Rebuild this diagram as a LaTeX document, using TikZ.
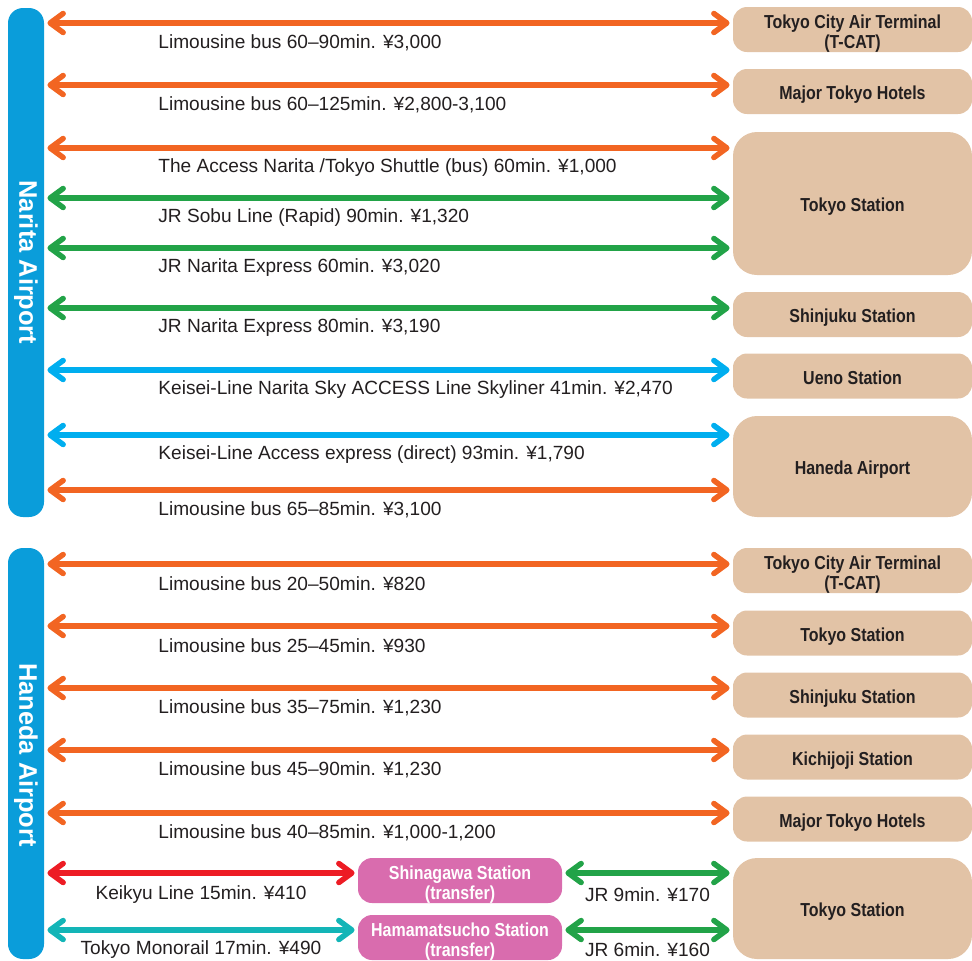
\documentclass[tikz,border=0pt]{standalone}
\usepackage{fontspec}
\setmainfont{Liberation Sans}
\newfontfamily\condfont{Liberation Sans}[FakeStretch=0.85]
\usetikzlibrary{arrows.meta}

\definecolor{busorange}{HTML}{F26522}
\definecolor{jrgreen}{HTML}{22A348}
\definecolor{keiseiblue}{HTML}{00AEEF}
\definecolor{barblue}{HTML}{0A9DDA}
\definecolor{keikyured}{HTML}{ED1C24}
\definecolor{monoteal}{HTML}{13B5B7}
\definecolor{transpink}{HTML}{D96CAE}
\definecolor{desttan}{HTML}{E2C3A6}
\definecolor{inkgray}{HTML}{231F20}

\begin{document}
\begin{tikzpicture}[x=0.5pt, y=-0.5pt,
	>={Straight Barb[length=6.5pt, width=9.5pt, round]},
	route/.style={<->, line width=2.75pt, shorten <=1.5pt, shorten >=1.5pt},
	fare/.style={text=inkgray, font=\fontsize{9.55}{11}\selectfont, inner sep=0pt},
	dest/.style={fill=desttan, rounded corners=7pt, minimum width=119.5pt, minimum height=22.5pt, inner sep=0pt,
		text height=8.2pt, text depth=0pt,
		text=inkgray, align=center, font=\condfont\bfseries\fontsize{9.4}{10}\selectfont},
	twoline/.style={text height=18.7pt},
	transfer/.style={dest, twoline, fill=transpink, text=white, minimum width=102pt},
	airport/.style={fill=barblue, rounded corners=7.5pt, minimum width=18pt, inner sep=0pt},
	airname/.style={text=white, rotate=-90, inner sep=0pt, font=\bfseries\fontsize{12.7}{13}\selectfont}]
		\useasboundingbox (0,0) rectangle (972,960);
		
		\node[airport, minimum height=254.5pt] (narita) at (26,262.5) {};
		\node[airname] (naritaname) at (narita) {Narita Airport};
		\node[airport, minimum height=205.5pt] (haneda) at (26,753.5) {};
		\node[airname] (hanedaname) at (26,755) {Haneda Airport};
		
		\node[dest, twoline] (tcatN) at (852.5,29.5) {Tokyo City Air Terminal\\(T-CAT)};
		\node[dest] (hotelsN) at (852.5,91.5) {Major Tokyo Hotels};
		\node[dest, rounded corners=12pt, minimum height=71.5pt] (tokyoN) at (852.5,203.5) {Tokyo Station};
		\node[dest] (shinjukuN) at (852.5,314.5) {Shinjuku Station};
		\node[dest] (uenoN) at (852.5,376) {Ueno Station};
		\node[dest, rounded corners=12pt, minimum height=50.5pt] (hanedaN) at (852.5,466.5) {Haneda Airport};
		
		\node[dest, twoline] (tcatH) at (852.5,570.5) {Tokyo City Air Terminal\\(T-CAT)};
		\node[dest] (tokyoH) at (852.5,633) {Tokyo Station};
		\node[dest] (shinjukuH) at (852.5,695) {Shinjuku Station};
		\node[dest] (kichijojiH) at (852.5,757) {Kichijoji Station};
		\node[dest] (hotelsH) at (852.5,819) {Major Tokyo Hotels};
		\node[dest, rounded corners=12pt, minimum height=50.5pt] (tokyoHH) at (852.5,908.5) {Tokyo Station};
		
		\node[transfer] (shinagawa) at (460,880.5) {Shinagawa Station\\(transfer)};
		\node[transfer] (hamamatsucho) at (460,937.5) {Hamamatsucho Station\\(transfer)};
		
		\foreach \y/\clr/\dst/\txt in {
			23/busorange/tcatN/{Limousine bus 60–90min. ¥3,000},
			85/busorange/hotelsN/{Limousine bus 60–125min. ¥2,800-3,100},
			148/busorange/tokyoN/{The Access Narita /Tokyo Shuttle (bus) 60min. ¥1,000},
			198/jrgreen/tokyoN/{JR Sobu Line (Rapid) 90min. ¥1,320},
			248/jrgreen/tokyoN/{JR Narita Express 60min. ¥3,020},
			308/jrgreen/shinjukuN/{JR Narita Express 80min. ¥3,190},
			370/keiseiblue/uenoN/{Keisei-Line Narita Sky ACCESS Line Skyliner 41min. ¥2,470},
			435/keiseiblue/hanedaN/{Keisei-Line Access express (direct) 93min. ¥1,790},
			490/busorange/hanedaN/{Limousine bus 65–85min. ¥3,100}}
		{
			\draw[route, \clr] (narita.east |- 0,\y) -- (\dst.west |- 0,\y);
			\node[fare, anchor=west] (fareN\y) at (158,\y+20) {\txt};
		}
		
		\foreach \y/\dst/\txt in {
			564/tcatH/{Limousine bus 20–50min. ¥820},
			626/tokyoH/{Limousine bus 25–45min. ¥930},
			688/shinjukuH/{Limousine bus 35–75min. ¥1,230},
			750/kichijojiH/{Limousine bus 45–90min. ¥1,230},
			813/hotelsH/{Limousine bus 40–85min. ¥1,000-1,200}}
		{
			\draw[route, busorange] (haneda.east |- 0,\y) -- (\dst.west |- 0,\y);
			\node[fare, anchor=west] (fareH\y) at (158,\y+20) {\txt};
		}
		
		\draw[route, keikyured] (haneda.east |- 0,873) -- node[fare, yshift=-11pt] (farekeikyu) {Keikyu Line 15min. ¥410} (shinagawa.west |- 0,873);
		\draw[route, jrgreen] (shinagawa.east |- 0,873) -- node[fare, yshift=-11pt] (farejrA) {JR 9min. ¥170} (tokyoHH.west |- 0,873);
		\draw[route, monoteal] (haneda.east |- 0,930) -- node[fare, yshift=-10pt] (faremono) {Tokyo Monorail 17min. ¥490} (hamamatsucho.west |- 0,930);
		\draw[route, jrgreen] (hamamatsucho.east |- 0,930) -- node[fare, yshift=-10pt] (farejrB) {JR 6min. ¥160} (tokyoHH.west |- 0,930);
	\end{tikzpicture}
\end{document}
